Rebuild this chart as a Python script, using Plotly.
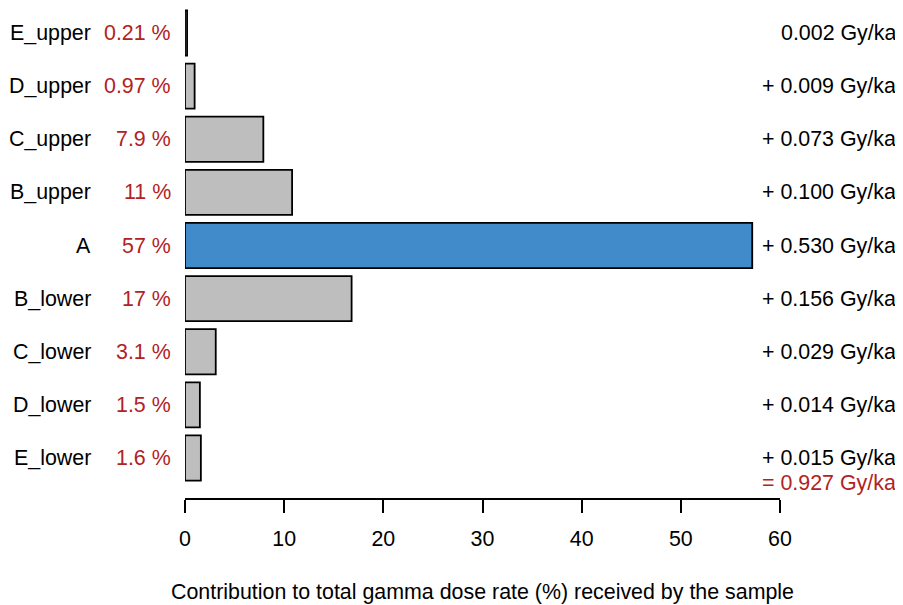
import plotly.graph_objects as go

layers = ["E_upper", "D_upper", "C_upper", "B_upper", "A", "B_lower", "C_lower", "D_lower", "E_lower"]
contrib_pct = [0.21, 0.97, 7.9, 10.8, 57.2, 16.8, 3.1, 1.5, 1.6]
pct_labels = ["0.21 %", "0.97 %", "7.9 %", "11 %", "57 %", "17 %", "3.1 %", "1.5 %", "1.6 %"]
dose_labels = ["0.002 Gy/ka", "+ 0.009 Gy/ka", "+ 0.073 Gy/ka", "+ 0.100 Gy/ka", "+ 0.530 Gy/ka",
               "+ 0.156 Gy/ka", "+ 0.029 Gy/ka", "+ 0.014 Gy/ka", "+ 0.015 Gy/ka"]
total_label = "= 0.927 Gy/ka"
sample_layer = "A"
x_ticks = [0, 10, 20, 30, 40, 50, 60]

RED = "#B22222"
FONT = "Liberation Sans, Arial, sans-serif"
FS = 21.4

n = len(layers)
ypos = [n - 1 - i for i in range(n)]
colors = ["#428BCA" if l == sample_layer else "#BEBEBE" for l in layers]

fig = go.Figure()
fig.add_trace(go.Bar(
    x=contrib_pct, y=ypos, orientation="h", width=0.85,
    marker=dict(color=colors, line=dict(color="black", width=1.8)),
    hoverinfo="skip", showlegend=False,
))

ann = []
for l, p, d, y in zip(layers, pct_labels, dose_labels, ypos):
    ann.append(dict(x=-0.154, y=y, xref="paper", yref="y", text=l, showarrow=False,
                    xanchor="right", yanchor="middle", font=dict(color="black", size=FS, family=FONT)))
    ann.append(dict(x=-0.020, y=y, xref="paper", yref="y", text=p, showarrow=False,
                    xanchor="right", yanchor="middle", font=dict(color=RED, size=FS, family=FONT)))
    ann.append(dict(x=1.198, y=y, xref="paper", yref="y", text=d, showarrow=False,
                    xanchor="right", yanchor="middle", font=dict(color="black", size=FS, family=FONT)))
ann.append(dict(x=1.198, y=-0.47, xref="paper", yref="y", text=total_label, showarrow=False,
                xanchor="right", yanchor="middle", font=dict(color=RED, size=FS, family=FONT)))
ann.append(dict(x=0.5, y=-0.1918, xref="paper", yref="paper",
                text="Contribution to total gamma dose rate (%) received by the sample",
                showarrow=False, xanchor="center", yanchor="middle",
                font=dict(color="black", size=FS, family=FONT)))

fig.update_layout(
    width=895, height=597,
    margin=dict(l=177, r=123, t=0, b=107, pad=0),
    plot_bgcolor="white", paper_bgcolor="white",
    font=dict(family=FONT, size=FS, color="black"),
    annotations=ann,
    xaxis=dict(range=[0, 60], tickvals=x_ticks, ticktext=[str(t) for t in x_ticks],
               showgrid=False, zeroline=False, showline=True, linecolor="black", linewidth=1.6,
               ticks="outside", ticklen=13, tickwidth=1.6, tickcolor="black",
               tickfont=dict(size=FS, family=FONT, color="black"), ticklabelstandoff=8),
    yaxis=dict(range=[-0.753, 8.471], showgrid=False, zeroline=False, showline=False,
               showticklabels=False, ticks=""),
)

fig.write_html("out.html")
